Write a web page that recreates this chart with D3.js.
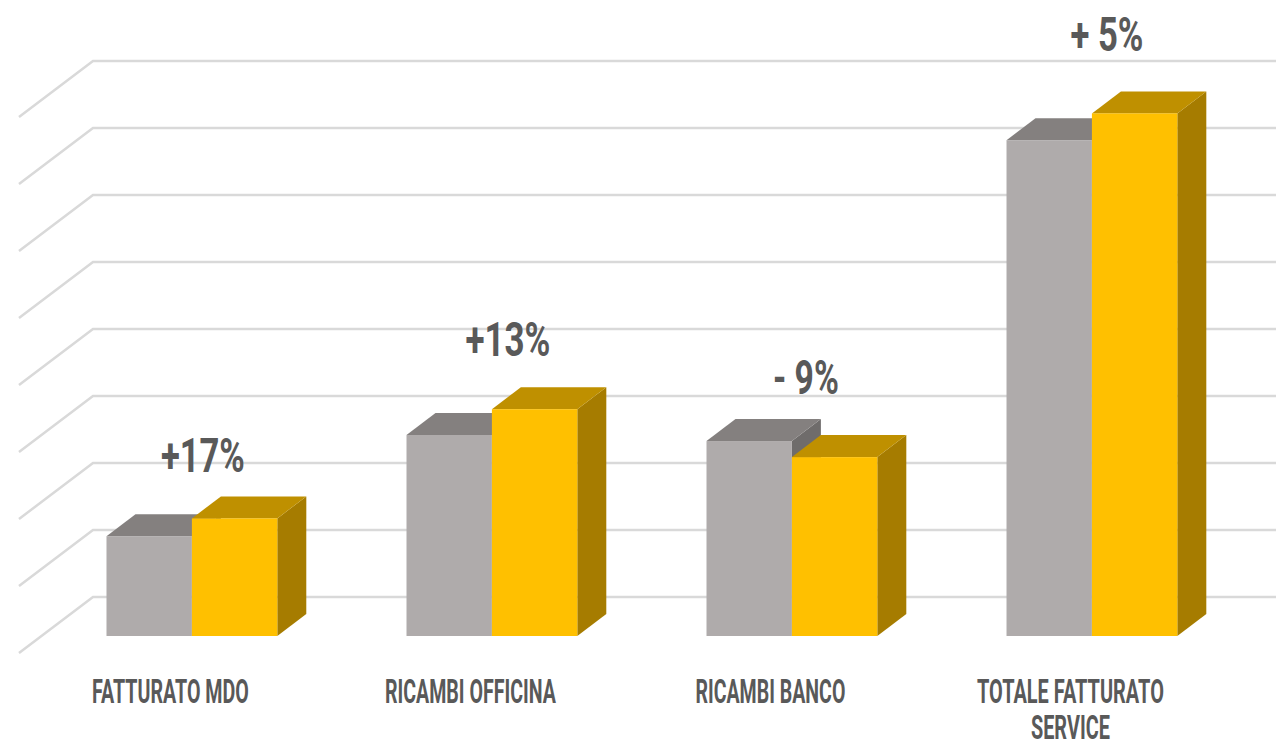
<!DOCTYPE html>
<html>
<head>
<meta charset="utf-8">
<script src="https://cdn.jsdelivr.net/npm/d3@7"></script>
<style>
html, body { margin: 0; padding: 0; background: #fff; overflow: hidden; }
text { font-family: "Liberation Sans Narrow", "Roboto", sans-serif; font-weight: 700; fill: #595959; }
</style>
</head>
<body>
<div id="chart"></div>
<script>
// values, in grid steps
var categories = ["FATTURATO MDO", "RICAMBI OFFICINA", "RICAMBI BANCO", "TOTALE FATTURATO|SERVICE"];
var prevYear = [1.49, 3.00, 2.91, 7.40];
var currYear = [1.755, 3.385, 2.67, 7.80];
var deltas = ["+17%", "+13%", "- 9%", "+ 5%"];
var gridTicks = [0, 1, 2, 3, 4, 5, 6, 7, 8];

var width = 1276, height = 740;
var depthX = 29, depthY = 22;

// hand placed lettering of the original: widths and gaps in pixels
var labelWidths = [[157], [171], [150], [187, 79]];
var deltaWidths = [84, 85, 66, 73];
var deltaGaps = [46, 53, 47, 62];
var deltaShift = [11, 16, 14, 15];

var svg = d3.select("#chart").append("svg")
	.attr("width", width)
	.attr("height", height);

// y runs on the front plane of the bars
var y = d3.scaleLinear().domain([0, 8]).range([636, 100]);
var x = d3.scaleBand().domain(categories).range([41.9, 1241.9]).paddingInner(0.4307).paddingOuter(0.2153);
var inner = d3.scaleBand().domain(["prev", "curr"]).range([0, x.bandwidth()]);

// back wall and floor lines
gridTicks.forEach(function(t)
{
	var yBack = y(t) - 39;
	svg.append("path")
		.attr("d", "M19," + (yBack + 56) + "L93," + yBack + "L" + width + "," + yBack)
		.attr("fill", "none")
		.attr("stroke", "#d9d9d9")
		.attr("stroke-width", 2.5);
});

function drawBar(group, left, w, value, front, top, side)
{
	var y0 = y(0), y1 = y(value), r = left + w;
	group.append("path")
		.attr("d", "M" + r + "," + y0 + "L" + (r + depthX) + "," + (y0 - depthY) + "L" + (r + depthX) + "," + (y1 - depthY) + "L" + r + "," + y1 + "Z")
		.attr("fill", side);
	group.append("path")
		.attr("d", "M" + left + "," + y1 + "L" + (left + depthX) + "," + (y1 - depthY) + "L" + (r + depthX) + "," + (y1 - depthY) + "L" + r + "," + y1 + "Z")
		.attr("fill", top);
	group.append("rect")
		.attr("x", left)
		.attr("y", y1)
		.attr("width", w)
		.attr("height", y0 - y1)
		.attr("fill", front);
}

categories.forEach(function(c, i)
{
	var g = svg.append("g");
	drawBar(g, x(c) + inner("prev"), inner.bandwidth(), prevYear[i], "#afabab", "#84807f", "#6f6c6b");
	drawBar(g, x(c) + inner("curr"), inner.bandwidth(), currYear[i], "#ffc000", "#bf9000", "#a67c00");
});

// text is squeezed to the condensed width of the original lettering
function squeezed(txt, cx, base, size, targetWidth)
{
	var t = svg.append("text")
		.attr("text-anchor", "middle")
		.attr("font-size", size)
		.text(txt);
	var k = targetWidth / t.node().getComputedTextLength();
	t.attr("transform", "translate(" + cx + "," + base + ") scale(" + k + ",1)");
}

categories.forEach(function(c, i)
{
	var mid = x(c) + x.bandwidth() / 2;
	c.split("|").forEach(function(line, k)
	{
		squeezed(line, mid - 21.5, 703 + k * 36, 33, labelWidths[i][k]);
	});
	var high = Math.min(y(prevYear[i]), y(currYear[i]));
	squeezed(deltas[i], mid + deltaShift[i], high - deltaGaps[i], 49, deltaWidths[i]);
});
</script>
</body>
</html>
